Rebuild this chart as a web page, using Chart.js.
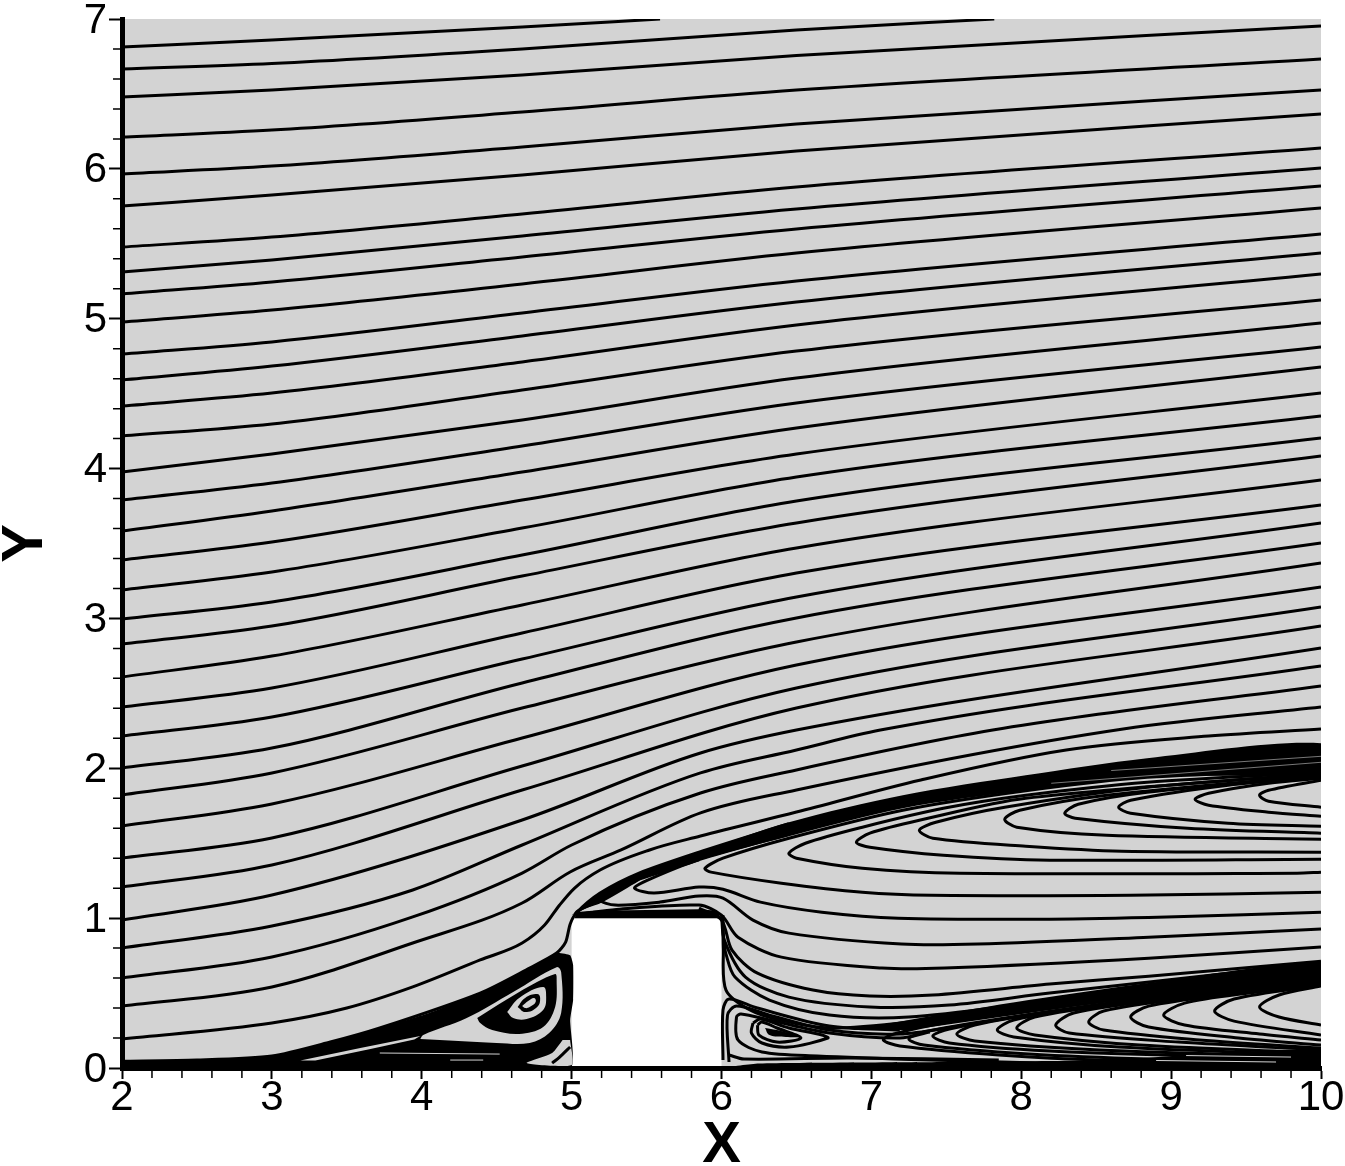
<!DOCTYPE html>
<html><head><meta charset="utf-8">
<style>html,body{margin:0;padding:0;background:#fff}canvas{display:block}</style>
<script src="https://cdn.jsdelivr.net/npm/chart.js@4/dist/chart.umd.min.js"></script>
</head><body><canvas id="c" width="1345" height="1166"></canvas>
<script>
const xTicksMajor=[2,3,4,5,6,7,8,9,10];
const yTicksMajor=[0,1,2,3,4,5,6,7];
const xStations=[2,3,4.67,6.5,10];
const yAtX2=[6.813,6.666,6.479,6.212,5.966,5.752,5.478,5.312,5.165,4.978,4.764,4.591,4.417,4.217,3.977,3.790,3.583,3.390,3.190,2.996,2.829,2.609,2.409,2.215,2.002,1.822,1.615,1.401,1.208];
const yAtX3=[6.860,6.703,6.526,6.259,6.019,5.825,5.545,5.392,5.245,5.058,4.845,4.684,4.504,4.297,4.097,3.904,3.717,3.510,3.310,3.110,2.949,2.749,2.536,2.342,2.135,1.969,1.762,1.535,1.355];
const yAtX467=[6.947,6.800,6.626,6.379,6.146,5.959,5.699,5.552,5.412,5.232,5.038,4.885,4.711,4.524,4.324,4.151,3.977,3.790,3.603,3.423,3.283,3.090,2.903,2.729,2.569,2.402,2.202,2.015,1.855];
const yAtX65=[null,6.926,6.756,6.526,6.299,6.119,5.879,5.732,5.599,5.438,5.252,5.111,4.958,4.784,4.604,4.438,4.271,4.097,3.944,3.784,3.637,3.470,3.303,3.143,3.003,2.843,2.689,2.536,2.402];
const yAtX10=[null,null,6.953,6.733,6.526,6.366,6.139,6.006,5.885,5.739,5.565,5.438,5.298,5.125,4.971,4.811,4.678,4.504,4.351,4.204,4.084,3.924,3.757,3.637,3.503,3.370,3.210,3.076,2.949];
const topExitX=[5.59,7.82];
const nearBlockLines=[
 [[2,.988],[3,1.154],[4.67,1.655],[5.86,2.102],[6.5,2.255],[10,2.803]],
 [[2,.801],[3,.948],[3.94,1.188],[4.67,1.488],[5.86,1.969],[6.5,2.122],[7.06,2.255],[10,2.683]],
 [[2,.601],[3,.741],[3.94,1.008],[4.67,1.301],[5,1.488],[5.86,1.835],[6.5,1.989],[7.81,2.255],[10,2.549]],
 [[2,.414],[3,.541],[3.94,.834],[4.67,1.101],[4.99,1.308],[5.33,1.455],[5.86,1.702],[6.5,1.855],[8.68,2.262],[10,2.409]],
 [[2,.194],[3,.300],[3.5,.40],[3.94,.541],[4.39,.721],[4.67,.834],[4.82,.954],[4.92,1.088],[5.02,1.201],[5.19,1.321],[5.52,1.455],[5.86,1.548],[6.5,1.708],[7.33,1.922],[8.3,2.122],[9.25,2.215],[10,2.262]]
];
const separatrix=[[2,.045],[2.5,.053],[3,.08],[3.39,.173],[3.72,.267],[4.39,.5],[4.72,.667],[4.9,.767],[4.96,.84],[4.99,.96],[5.03,1.033],[5.19,1.167],[5.45,1.30],[5.85,1.44],[6.45,1.63]];
const upperHairpins=[
 [[6.45,1.56],[5.85,1.39],[5.5,1.25],[5.42,1.20],[5.55,1.167],[5.85,1.207],[6.01,1.193],[6.26,1.107],[6.67,1.04],[7.18,1.0],[8.19,.993],[8.97,1.007],[10,1.04]],
 [[5.85,1.39],[5.45,1.26],[5.26,1.18],[5.19,1.12],[5.29,1.087],[5.59,1.107],[5.85,1.147],[6.01,1.133],[6.21,.987],[6.45,.90],[7.2,.827],[7.71,.827],[8.85,.873],[10,.927]],
 [[5.45,1.26],[5.19,1.11],[5.08,1.07],[5.03,1.033],[5.32,1.06],[5.85,1.087],[6.0,1.02],[6.11,.873],[6.40,.74],[7.07,.667],[7.49,.667],[8.85,.733],[10,.807]],
 [[10,1.987],[8.84,1.94],[8.03,1.85],[7.21,1.72],[6.45,1.533],[6.01,1.40],[5.89,1.333],[5.93,1.307],[6.40,1.233],[6.94,1.173],[7.40,1.153],[8.73,1.153],[10,1.173]],
 [[10,1.973],[8.84,1.907],[8.03,1.82],[7.48,1.733],[6.94,1.607],[6.56,1.50],[6.45,1.433],[6.50,1.40],[6.94,1.333],[7.59,1.30],[9.84,1.30],[10,1.307]],
 [[10,1.967],[8.03,1.80],[7.32,1.653],[6.99,1.567],[6.90,1.507],[6.99,1.473],[7.48,1.42],[8.19,1.387],[10,1.393]],
 [[10,1.96],[8.84,1.873],[7.89,1.74],[7.43,1.64],[7.32,1.587],[7.41,1.533],[8.03,1.48],[8.67,1.447],[10,1.44]],
 [[10,1.953],[8.57,1.82],[7.99,1.72],[7.89,1.66],[7.97,1.607],[8.57,1.553],[10,1.527]],
 [[10,1.947],[8.84,1.84],[8.38,1.76],[8.29,1.70],[8.36,1.667],[9.11,1.60],[10,1.567]],
 [[10,1.94],[9.38,1.887],[8.73,1.787],[8.65,1.74],[8.73,1.70],[9.38,1.633],[10,1.613]],
 [[10,1.933],[9.65,1.90],[9.25,1.833],[9.16,1.793],[9.25,1.753],[9.65,1.707],[10,1.68]],
 [[10,1.92],[9.65,1.853],[9.59,1.82],[9.65,1.78],[10,1.74]]
];
const sideLines=[
 [[5.85,1.067],[6,.987],[6.07,.787],[6.24,.633],[6.61,.52],[6.99,.48],[7.41,.487],[8.19,.56],[8.85,.613],[10,.713]],
 [[6,1.02],[6.02,.85],[6.16,.607],[6.45,.473],[6.99,.407],[7.52,.42],[8.19,.50],[10,.70]],
 [[6.005,1.02],[6.015,.85],[6.03,.76],[6.09,.607],[6.32,.453],[6.72,.353],[7.25,.34],[8.05,.433],[10,.687]],
 [[6.01,1.02],[6.012,.8],[6.03,.52],[6.19,.387],[6.39,.32],[6.72,.267],[7.25,.307],[8.05,.42],[10,.667]],
 [[6.01,.053],[6.01,.387],[6.05,.46],[6.24,.40],[6.72,.28],[7.19,.253]],
 [[6.05,.04],[6.04,.353],[6.1,.413],[6.32,.353],[6.72,.253],[7.19,.227],[7.59,.28]],
 [[8.59,.02],[7.39,.053],[6.64,.08],[6.27,.107],[6.11,.187],[6.1,.34],[6.13,.36],[6.32,.32],[6.72,.233],[7.19,.20],[7.39,.24]],
 [[6.05,.087],[6.15,.06],[6.85,.067],[7.85,.053]]
];
const eddyLoops=[
 [[6.21,.30],[6.20,.233],[6.27,.167],[6.45,.14],[6.71,.20],[6.67,.22],[6.45,.267],[6.26,.327],[6.21,.30]],
 [[6.24,.287],[6.25,.22],[6.37,.173],[6.53,.20],[6.37,.267],[6.27,.307],[6.24,.287]]
];
const lowerHairpins=[
 [[10,.593],[8.85,.48],[8.05,.38],[7.52,.307],[7.15,.227],[7.08,.187],[7.19,.147],[7.85,.087],[8.52,.053],[10,.03]],
 [[10,.587],[8.85,.467],[7.85,.327],[7.35,.24],[7.25,.193],[7.35,.153],[8.05,.093],[8.85,.06],[10,.04]],
 [[10,.58],[8.85,.453],[8.05,.353],[7.52,.26],[7.41,.213],[7.52,.167],[8.19,.113],[9.19,.08],[10,.06]],
 [[10,.573],[8.25,.38],[7.69,.287],[7.57,.227],[7.69,.18],[8.52,.12],[10,.073]],
 [[10,.567],[8.52,.413],[7.95,.32],[7.84,.253],[7.95,.207],[8.65,.14],[10,.087]],
 [[10,.567],[8.65,.427],[8.09,.34],[7.97,.267],[8.09,.22],[8.79,.153],[10,.10]],
 [[10,.56],[8.92,.453],[8.35,.367],[8.23,.287],[8.32,.233],[9.05,.173],[10,.12]],
 [[10,.56],[9.12,.467],[8.55,.38],[8.45,.307],[8.55,.253],[9.19,.187],[10,.133]],
 [[10,.56],[9.39,.493],[8.85,.413],[8.73,.34],[8.85,.273],[9.45,.20],[10,.153]],
 [[10,.553],[9.52,.50],[9.09,.433],[8.95,.353],[9.09,.287],[9.59,.227],[10,.187]],
 [[10,.553],[9.42,.46],[9.29,.38],[9.42,.313],[10,.22]],
 [[10,.547],[9.72,.487],[9.59,.407],[9.72,.34],[10,.287]]
];
const vortexArcs=[
 [[4.70,.053],[4.87,.167],[4.96,.253]],
 [[4.87,.033],[4.92,.073],[4.99,.14]]
];
const grayStreaks=[
 [[3.72,.10],[4.52,.093]],
 [[4.19,.053],[4.41,.053]],
 [[9.1,.083],[9.8,.073]],
 [[8.9,.05],[9.7,.04]]
];
const faintStreaks=[
 [[8.6,1.985],[10,2.08]],
 [[8.2,1.90],[10,2.04]]
];
const domainShape=[[2,0],[5,0],[5,1],[6,1],[6,0],[10,0],[10,7],[2,7]];
const wedgeBlack=[[2,.045],[2.5,.053],[3,.08],[3.39,.173],[3.72,.267],[4.05,.367],[4.39,.50],[4.72,.667],[4.90,.767],[4.99,.753],[5.01,.687],[5.01,.453],[4.99,.32],[4.99,0],[2,0]];
const graySliver=[[3.19,.05],[3.59,.133],[3.99,.213],[3.95,.19],[3.65,.125],[3.29,.05]];
const grayCrescent=[[3.99,.193],[4.01,.22],[4.30,.333],[4.61,.507],[4.90,.673],[4.93,.64],[4.93,.367],[4.85,.233],[4.72,.167],[4.50,.167],[3.99,.193]];
const blackRing=[[4.37,.333],[4.65,.507],[4.89,.627],[4.90,.587],[4.89,.407],[4.81,.273],[4.65,.227],[4.47,.253],[4.39,.30],[4.37,.333]];
const grayInner=[[4.57,.373],[4.65,.467],[4.81,.54],[4.83,.473],[4.81,.387],[4.70,.327],[4.61,.333],[4.57,.373]];
const blackEllipse=[[4.64,.407],[4.69,.467],[4.77,.493],[4.79,.467],[4.77,.407],[4.69,.373],[4.64,.407]];
const grayCenter=[[4.67,.413],[4.71,.447],[4.75,.467],[4.76,.44],[4.72,.407],[4.69,.40],[4.67,.413]];
const grayCorner=[[4.99,.187],[5.0,.02],[4.70,.033],[4.87,.10],[4.94,.187]];
const bandUpper=[[5.0,1.02],[5.19,1.167],[5.45,1.30],[5.85,1.44],[6.45,1.64],[7.21,1.82],[8.03,1.953],[8.84,2.067],[10,2.167],[10,1.987],[8.84,1.94],[8.03,1.853],[7.21,1.733],[6.45,1.547],[5.85,1.387],[5.45,1.26],[5.19,1.11]];
const bandLower=[[6.85,.253],[7.25,.32],[8.05,.453],[8.85,.567],[10,.707],[10,.587],[8.85,.473],[8.05,.367],[7.25,.253]];
const blockTopBand=[[5.02,1.0],[5.03,1.033],[5.15,1.05],[5.85,1.06],[5.97,1.05],[6.01,.98],[6.0,1.0]];
const bottomBlack=[[6,0],[6.25,.03],[7.52,.04],[8.59,.053],[9.12,.087],[10,.12],[10,0]];
const eddyCore=[[6.29,.267],[6.32,.22],[6.43,.207],[6.52,.21],[6.37,.253],[6.29,.267]];

const GRAY='#d3d3d3',INK='#000';
const toPts=a=>a.map(p=>({x:p[0],y:p[1]}));
const ds=[];
const poly=(a,c,t=0)=>ds.push({data:toPts(a),showLine:true,borderWidth:0,pointRadius:0,fill:'shape',tension:t,backgroundColor:c,borderColor:c});
const line=(a,o={})=>ds.push(Object.assign({data:toPts(a),showLine:true,borderWidth:3,borderColor:INK,pointRadius:0,fill:false},o));
poly(domainShape,GRAY);
poly(wedgeBlack,INK,.15);poly(graySliver,GRAY);poly(grayCrescent,GRAY,.35);poly(blackRing,INK,.35);poly(grayInner,GRAY,.4);poly(blackEllipse,INK,.45);poly(grayCenter,GRAY,.45);poly(grayCorner,GRAY,.2);
poly(bandUpper,INK,.3);poly(bandLower,INK,.3);poly(blockTopBand,INK);poly(bottomBlack,INK,.2);poly(eddyCore,INK,.4);
yAtX2.forEach((_,i)=>{
  const cols=[yAtX2,yAtX3,yAtX467,yAtX65,yAtX10];
  const a=[];
  cols.forEach((c,k)=>{if(c[i]!=null)a.push([xStations[k],c[i]]);});
  if(i<topExitX.length)a.push([topExitX[i],7]);
  line(a,{cubicInterpolationMode:'monotone'});
});
nearBlockLines.forEach(a=>line(a,{cubicInterpolationMode:'monotone'}));
line(separatrix,{tension:.25});
[upperHairpins,sideLines,eddyLoops,lowerHairpins,vortexArcs].forEach(g=>g.forEach(a=>line(a,{tension:.3})));
grayStreaks.forEach(a=>line(a,{borderColor:GRAY,borderWidth:1}));
faintStreaks.forEach(a=>line(a,{borderColor:'#777',borderWidth:1}));
ds.forEach((d,i)=>d.order=ds.length-i);

const isInt=v=>Math.abs(v-Math.round(v))<1e-6;
const minorTicks={
 id:'minorTicks',
 afterDraw(ch){
  const c=ch.ctx,{x,y}=ch.scales;
  c.save();c.strokeStyle=INK;c.lineWidth=1.5;c.beginPath();
  x.ticks.forEach(t=>{if(!isInt(t.value)){const p=x.getPixelForValue(t.value);c.moveTo(p,1070);c.lineTo(p,1078);}});
  y.ticks.forEach(t=>{if(!isInt(t.value)){const p=y.getPixelForValue(t.value);c.moveTo(113,p);c.lineTo(120,p);}});
  c.stroke();c.restore();
 }
};
const family='"Liberation Sans",Arial,sans-serif';
const tickFont={family,size:42,lineHeight:.85};
const tickColor=ctx=>isInt(ctx.tick.value)?INK:'transparent';
const noPad=s=>{s.paddingLeft=0;s.paddingRight=0;s.paddingTop=0;s.paddingBottom=0;};
new Chart(document.getElementById('c'),{
 type:'scatter',
 data:{datasets:ds},
 plugins:[minorTicks],
 options:{
  responsive:false,animation:false,
  layout:{padding:{left:0,right:24,top:19,bottom:0}},
  plugins:{legend:{display:false},tooltip:{enabled:false}},
  elements:{line:{borderCapStyle:'butt',borderJoinStyle:'round'}},
  scales:{
   x:{type:'linear',min:xTicksMajor[0],max:xTicksMajor[xTicksMajor.length-1],
    afterFit:s=>{s.height=98;noPad(s);},
    border:{display:true,width:5,color:INK,z:2},
    grid:{display:true,drawOnChartArea:false,drawTicks:true,tickLength:11,tickWidth:2,tickColor,z:1},
    ticks:{stepSize:.2,autoSkip:false,maxRotation:0,minRotation:0,color:INK,font:tickFont,padding:2,z:1,callback:v=>isInt(v)?String(Math.round(v)):''},
    title:{display:true,text:'X',color:INK,font:{family,size:58,weight:'bold',lineHeight:.68},padding:{top:0,bottom:0}}
   },
   y:{type:'linear',min:yTicksMajor[0],max:yTicksMajor[yTicksMajor.length-1],
    afterFit:s=>{s.width=122;noPad(s);},
    border:{display:true,width:5,color:INK,z:2},
    grid:{display:true,drawOnChartArea:false,drawTicks:true,tickLength:13,tickWidth:2,tickColor,z:1},
    ticks:{stepSize:.2,autoSkip:false,labelOffset:2,color:INK,font:tickFont,padding:2,z:1,callback:v=>isInt(v)?String(Math.round(v)):''},
    title:{display:true,text:'Y',color:INK,font:{family,size:58,weight:'bold',lineHeight:.9},padding:{top:0,bottom:0}}
   }
  }
 }
});
</script></body></html>
